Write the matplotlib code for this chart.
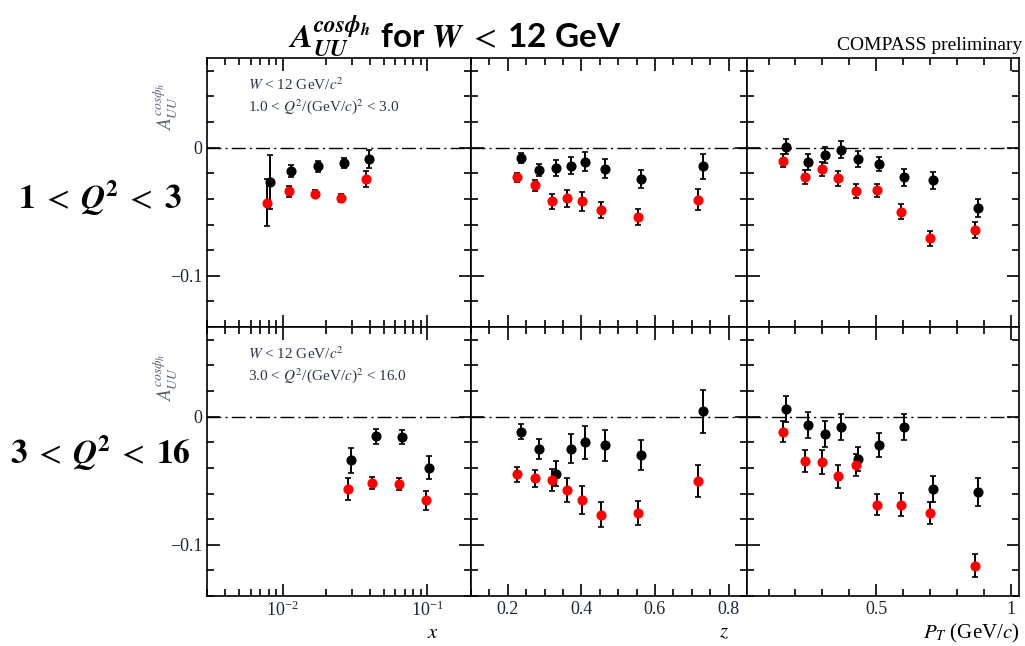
import numpy as np
import matplotlib
matplotlib.use("Agg")
import matplotlib.pyplot as plt
from matplotlib.ticker import MultipleLocator, FixedLocator, LogLocator, NullFormatter

plt.rcParams['mathtext.fontset'] = 'stix'
plt.rcParams['font.family'] = 'Liberation Serif'

# ---- data: A_UU^cos(phi_h), W < 12 GeV ----
# black / red series, two Q^2 bins (row 0: 1<Q2<3, row 1: 3<Q2<16)
x_blk = [[0.0082, 0.0115, 0.0175, 0.0265, 0.0396],
         [0.0296, 0.0441, 0.0664, 0.102]]
y_blk = [[-0.0268, -0.018, -0.0147, -0.0119, -0.0088],
         [-0.0341, -0.0153, -0.0158, -0.0398]]
e_blk = [[0.021, 0.0047, 0.004, 0.004, 0.007],
         [0.0098, 0.0058, 0.0057, 0.0089]]
x_red = [[0.0078, 0.011, 0.0166, 0.0251, 0.0378],
         [0.0282, 0.0416, 0.0632, 0.0973]]
y_red = [[-0.0429, -0.0341, -0.0359, -0.0395, -0.0245],
         [-0.0563, -0.0517, -0.0525, -0.0654]]
e_red = [[0.0185, 0.0043, 0.003, 0.003, 0.006],
         [0.0088, 0.0048, 0.0049, 0.0076]]

z_blk = [0.235, 0.285, 0.330, 0.371, 0.411, 0.464, 0.563, 0.730]
z_red = [0.224, 0.274, 0.320, 0.360, 0.401, 0.454, 0.553, 0.718]
zy_blk = [[-0.0082, -0.0178, -0.016, -0.0142, -0.0108, -0.0165, -0.0243, -0.0147],
          [-0.0116, -0.0253, -0.0444, -0.025, -0.0199, -0.0225, -0.030, 0.0041]]
ze_blk = [[0.004, 0.0047, 0.006, 0.0067, 0.0078, 0.0074, 0.0071, 0.010],
          [0.006, 0.0075, 0.0098, 0.0112, 0.0128, 0.012, 0.0119, 0.0168]]
zy_red = [[-0.023, -0.0294, -0.042, -0.0395, -0.042, -0.0486, -0.054, -0.0405],
          [-0.045, -0.048, -0.0496, -0.0574, -0.0651, -0.0765, -0.0752, -0.0504]]
ze_red = [[0.0035, 0.0044, 0.0056, 0.0066, 0.0074, 0.0063, 0.006, 0.0083],
          [0.0057, 0.0066, 0.0087, 0.0094, 0.0109, 0.0097, 0.0096, 0.0124]]

pt_blk = [0.164, 0.245, 0.309, 0.369, 0.433, 0.512, 0.603, 0.709, 0.876]
pt_red = [0.153, 0.235, 0.300, 0.359, 0.423, 0.503, 0.592, 0.700, 0.866]
py_blk = [[0.0008, -0.0111, -0.0057, -0.0015, -0.0088, -0.0129, -0.0232, -0.0256, -0.0473],
          [0.0062, -0.0065, -0.0137, -0.008, -0.0331, -0.022, -0.008, -0.0563, -0.0587]]
pe_blk = [[0.006, 0.006, 0.0062, 0.0065, 0.006, 0.0057, 0.0066, 0.0066, 0.007],
          [0.010, 0.010, 0.0103, 0.0102, 0.0097, 0.0093, 0.0099, 0.0102, 0.0109]]
py_red = [[-0.0101, -0.023, -0.0168, -0.024, -0.0341, -0.0333, -0.050, -0.0708, -0.0643],
          [-0.0116, -0.0344, -0.0351, -0.0465, -0.0377, -0.0687, -0.0687, -0.075, -0.1165]]
pe_red = [[0.0053, 0.0057, 0.0056, 0.0058, 0.0054, 0.0052, 0.006, 0.0058, 0.0063],
          [0.0085, 0.0085, 0.0093, 0.0089, 0.0084, 0.008, 0.0088, 0.0087, 0.009]]

row_labels = [r"$\mathbf{1}\;<\;\mathbfit{Q}^{\mathbf{2}}\;<\;\mathbf{3}$",
              r"$\mathbf{3}\;<\;\mathbfit{Q}^{\mathbf{2}}\;<\;\mathbf{16}$"]
q2_text = [r"1.0 < $Q^2$/(GeV/$c$)$^2$ < 3.0", r"3.0 < $Q^2$/(GeV/$c$)$^2$ < 16.0"]

W, H = 1025, 646
fig = plt.figure(figsize=(W / 100, H / 100), dpi=100)

xedges = [207, 471, 747, 1019]
yedges = [58, 327, 596]

def frac_box(x0, x1, y0, y1):
    return [x0 / W, 1 - y1 / H, (x1 - x0) / W, (y1 - y0) / H]

def draw(ax, xb, yb, eb, xr, yr, er):
    ax.axhline(0, color='black', lw=1.0, ls=(0, (10, 3, 1.5, 3)), zorder=1)
    ax.errorbar(xb, yb, yerr=eb, fmt='o', color='black', ecolor='black',
                ms=6.3, elinewidth=1.4, capsize=2, capthick=1.2, zorder=3)
    ax.errorbar(xr, yr, yerr=er, fmt='o', color='#ff0000', mec='#ff0000', ecolor='black',
                ms=6.3, elinewidth=1.4, capsize=2, capthick=1.2, zorder=3)

tick_col = '#1c2440'
for r in range(2):
    for c in range(3):
        ax = fig.add_axes(frac_box(xedges[c], xedges[c + 1], yedges[r], yedges[r + 1]))
        if c == 0:
            draw(ax, x_blk[r], y_blk[r], e_blk[r], x_red[r], y_red[r], e_red[r])
            ax.set_xscale('log')
            ax.set_xlim(0.003, 0.2)
            ax.xaxis.set_major_locator(LogLocator(base=10, numticks=10))
            ax.xaxis.set_minor_locator(LogLocator(base=10, subs=np.arange(2, 10), numticks=10))
            ax.xaxis.set_minor_formatter(NullFormatter())
        elif c == 1:
            draw(ax, z_blk, zy_blk[r], ze_blk[r], z_red, zy_red[r], ze_red[r])
            ax.set_xlim(0.1, 0.85)
            ax.xaxis.set_major_locator(FixedLocator([0.2, 0.4, 0.6, 0.8]))
            ax.xaxis.set_minor_locator(MultipleLocator(0.05))
            ax.set_xticklabels(['0.2', '0.4', '0.6', '0.8'])
        else:
            draw(ax, pt_blk, py_blk[r], pe_blk[r], pt_red, py_red[r], pe_red[r])
            ax.set_xlim(0.02, 1.03)
            ax.xaxis.set_major_locator(FixedLocator([0.5, 1.0]))
            ax.xaxis.set_minor_locator(MultipleLocator(0.1))
            ax.set_xticklabels(['0.5', '1'])
        ax.set_ylim(-0.14, 0.07)
        ax.yaxis.set_major_locator(FixedLocator([-0.1, 0.0]))
        ax.yaxis.set_minor_locator(MultipleLocator(0.02))
        ax.set_yticklabels(['\u22120.1', '0'])
        ax.tick_params(which='both', direction='in', top=True, right=True,
                       colors='black', labelcolor=tick_col, labelsize=13, width=1.2)
        ax.tick_params(which='major', length=9)
        ax.tick_params(which='minor', length=5)
        if c != 0:
            ax.tick_params(labelleft=False)
        if r == 0:
            ax.tick_params(labelbottom=False)
        for s in ax.spines.values():
            s.set_linewidth(1.2)
        if c == 0:
            ax.text(0.155, 0.9, r"$W$ < 12 GeV/$c^2$", transform=ax.transAxes,
                    fontsize=11, color='#2b3550', va='center')
            ax.text(0.155, 0.82, q2_text[r], transform=ax.transAxes,
                    fontsize=11, color='#2b3550', va='center')

# y-axis labels
for yc in [107, 378]:
    fig.text(166 / W, 1 - yc / H, r"$A_{UU}^{cos\phi_h}$", rotation=90,
             fontsize=14, color='#5a6478', ha='center', va='center')

# row labels
for lab, yc in zip(row_labels, [198, 453]):
    fig.text(100 / W, 1 - yc / H, lab, fontsize=24, ha='center', va='center')

# x-axis labels
fig.text(433 / W, 1 - 633 / H, r"$x$", fontsize=15, ha='center', va='center')
fig.text(724 / W, 1 - 633 / H, r"$z$", fontsize=15, ha='center', va='center')
fig.text(1019 / W, 1 - 633 / H, r"$P_T$ (GeV/$c$)", fontsize=15, ha='right', va='center')

# titles
fig.text(455 / W, 1 - 36 / H,
         r"$\mathbfit{A}_{\mathbfit{UU}}^{\mathbfit{cos}\boldsymbol{\phi}_{\mathbfit{h}}}$ for $\mathbfit{W}\;<\;$12 GeV",
         fontsize=24, fontweight='bold', family='Lato', ha='center', va='center')
fig.text(1022 / W, 1 - 45 / H, "COMPASS preliminary", fontsize=14, ha='right', va='center')

fig.savefig("out.png", dpi=100)
